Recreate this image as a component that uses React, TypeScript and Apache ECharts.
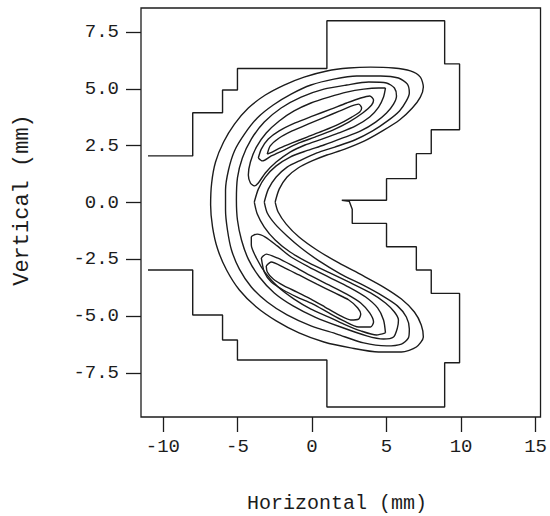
import React, { useEffect, useRef } from "react";
import * as echarts from "echarts";

// Axis ticks (mm)
const xTickValues = [-10, -5, 0, 5, 10, 15];
const yTickValues = [-7.5, -5, -2.5, 0, 2.5, 5, 7.5];
const xRange = [-11.47, 15.33];
const yRange = [-9.44, 8.56];

// Stepped outer boundary of the measured region [x, y] (mm)
const boundary = [
  [-11, 2.05], [-8, 2.05], [-8, 3.95], [-6, 3.95], [-6, 4.95], [-5, 4.95], [-5, 5.9],
  [1, 5.9], [1, 8], [8.9, 8], [8.9, 6.1], [9.9, 6.1], [9.9, 3.2], [8, 3.2], [8, 2.15],
  [7, 2.15], [7, 1.05], [5, 1.05], [5, 0.1], [2, 0.1], [2.5, 0.05], [2.7, -0.3],
  [2.7, -0.92], [5, -0.92], [5, -1.95], [7, -1.95], [7, -2.97], [8, -2.97], [8, -4.0],
  [9.9, -4.0], [9.9, -7.05], [8.9, -7.05], [8.9, -9], [1, -9], [1, -6.93], [-5, -6.93],
  [-5, -6.05], [-6, -6.05], [-6, -4.95], [-8, -4.95], [-8, -2.97], [-11, -2.97],
];

// Contour level 1 (outermost, C-shaped)
const contour1 = [
  [-2.47, 0.02], [-2.2, 0.59], [-1.67, 1.12], [-0.93, 1.52], [0.0, 1.83], [1.0, 2.09],
  [2.2, 2.35], [3.53, 2.71], [4.73, 3.15], [5.87, 3.63], [6.73, 4.16], [7.27, 4.64],
  [7.47, 5.08], [7.27, 5.52], [6.6, 5.79], [5.47, 5.92], [3.93, 5.96], [2.47, 5.92],
  [1.0, 5.79], [-0.53, 5.52], [-1.87, 5.17], [-3.13, 4.73], [-4.27, 4.16], [-5.2, 3.45],
  [-5.93, 2.66], [-6.47, 1.78], [-6.73, 0.86], [-6.8, -0.11], [-6.67, -1.08], [-6.33, -2.05],
  [-5.73, -2.97], [-4.87, -3.85], [-3.73, -4.6], [-2.4, -5.21], [-0.87, -5.74], [0.8, -6.14],
  [2.6, -6.4], [4.47, -6.58], [6.0, -6.58], [7.0, -6.36], [7.47, -5.92], [7.33, -5.39],
  [6.87, -4.82], [6.0, -4.25], [4.8, -3.72], [3.33, -3.19], [1.8, -2.66], [0.33, -2.09],
  [-0.87, -1.52], [-1.73, -0.95], [-2.27, -0.42], [-2.47, 0.02],
];

// Contour level 2 (C-shaped)
const contour2 = [
  [-3.2, 0.02], [-2.93, 0.59], [-2.4, 1.12], [-1.67, 1.56], [-0.73, 1.87], [0.33, 2.18],
  [1.53, 2.44], [2.87, 2.75], [4.07, 3.15], [5.07, 3.59], [5.87, 4.03], [6.33, 4.47],
  [6.53, 4.82], [6.4, 5.21], [5.8, 5.48], [4.6, 5.57], [3.0, 5.57], [1.47, 5.43],
  [-0.07, 5.17], [-1.4, 4.77], [-2.6, 4.29], [-3.67, 3.72], [-4.53, 3.01], [-5.2, 2.27],
  [-5.6, 1.43], [-5.8, 0.55], [-5.8, -0.33], [-5.67, -1.21], [-5.4, -2.09], [-4.87, -2.93],
  [-4.07, -3.72], [-3.0, -4.38], [-1.67, -4.95], [-0.07, -5.43], [1.67, -5.79], [3.47, -6.18],
  [5.0, -6.31], [6.0, -6.23], [6.47, -5.96], [6.53, -5.57], [6.33, -5.04], [5.73, -4.55],
  [4.73, -4.11], [3.4, -3.63], [1.93, -3.15], [0.47, -2.57], [-0.73, -2.0], [-1.67, -1.47],
  [-2.47, -0.95], [-3.0, -0.46], [-3.2, 0.02],
];

// Contour level 3 (C-shaped)
const contour3 = [
  [-3.87, 0.02], [-3.6, 0.59], [-3.13, 1.12], [-2.4, 1.61], [-1.47, 2.0], [-0.4, 2.27],
  [0.8, 2.53], [2.07, 2.84], [3.27, 3.15], [4.27, 3.54], [5.0, 3.94], [5.47, 4.33],
  [5.67, 4.69], [5.53, 5.04], [5.0, 5.26], [3.8, 5.3], [2.33, 5.17], [0.8, 4.99],
  [-0.73, 4.64], [-2.07, 4.16], [-3.2, 3.54], [-4.07, 2.79], [-4.67, 1.96], [-5.0, 1.08],
  [-5.07, 0.11], [-5.0, -0.77], [-4.73, -1.65], [-4.27, -2.49], [-3.53, -3.28], [-2.53, -3.98],
  [-1.27, -4.55], [0.2, -5.04], [1.93, -5.48], [3.67, -5.87], [4.8, -6.01], [5.47, -5.92],
  [5.73, -5.52], [5.8, -5.17], [5.53, -4.82], [4.93, -4.42], [3.93, -3.98], [2.6, -3.54],
  [1.2, -3.1], [-0.2, -2.66], [-1.47, -2.18], [-2.47, -1.65], [-3.2, -1.08], [-3.67, -0.51],
  [-3.87, 0.02],
];

// Contour level 4, upper and lower lobes
const contour4Upper = [
  [4.93, 5.04], [4.47, 5.04], [3.47, 4.99], [2.33, 4.86], [1.13, 4.64], [-0.07, 4.38],
  [-1.2, 4.03], [-2.2, 3.59], [-3.07, 3.06], [-3.73, 2.44], [-4.13, 1.78], [-4.27, 1.21],
  [-4.13, 0.86], [-3.87, 0.73], [-3.6, 0.86], [-3.13, 1.3], [-2.4, 1.78], [-1.47, 2.22],
  [-0.47, 2.53], [0.67, 2.79], [1.8, 3.06], [2.93, 3.37], [3.87, 3.76], [4.47, 4.2],
  [4.8, 4.64], [4.93, 5.04],
];
const contour4Lower = [
  [4.93, -5.74], [4.33, -5.83], [3.27, -5.65], [2.13, -5.35], [1.13, -5.04], [-0.07, -4.69],
  [-1.2, -4.25], [-2.27, -3.72], [-3.13, -3.1], [-3.73, -2.44], [-4.07, -1.87], [-4.07, -1.52],
  [-3.67, -1.39], [-3.13, -1.52], [-2.33, -1.91], [-1.4, -2.4], [-0.2, -2.84], [1.13, -3.28],
  [2.47, -3.72], [3.6, -4.16], [4.4, -4.64], [4.8, -5.17], [4.93, -5.74],
];

// Contour level 5, upper and lower lobes
const contour5Upper = [
  [-3.6, 1.96], [-3.4, 2.35], [-2.93, 2.79], [-2.2, 3.15], [-1.13, 3.5], [0.07, 3.81],
  [1.27, 4.11], [2.33, 4.38], [3.27, 4.6], [3.87, 4.69], [4.13, 4.51], [4.0, 4.29],
  [3.4, 3.94], [2.47, 3.54], [1.4, 3.19], [0.2, 2.88], [-0.87, 2.62], [-1.87, 2.31],
  [-2.73, 2.05], [-3.33, 1.83], [-3.6, 1.96],
];
const contour5Lower = [
  [-3.4, -2.44], [-3.07, -2.27], [-2.33, -2.44], [-1.4, -2.75], [-0.2, -3.19], [1.13, -3.63],
  [2.33, -4.03], [3.27, -4.42], [3.87, -4.86], [4.13, -5.26], [3.93, -5.48], [3.13, -5.48],
  [2.13, -5.21], [1.13, -4.86], [0.07, -4.47], [-1.0, -4.16], [-1.93, -3.85], [-2.73, -3.5],
  [-3.2, -3.06], [-3.4, -2.44],
];

// Contour level 6 (innermost), upper and lower lobes
const contour6Upper = [
  [-3.0, 2.13], [-2.8, 2.49], [-2.2, 2.84], [-1.33, 3.15], [-0.27, 3.45], [0.87, 3.76],
  [1.87, 4.03], [2.67, 4.25], [3.13, 4.33], [3.33, 4.16], [3.2, 3.98], [2.67, 3.76],
  [1.8, 3.45], [0.73, 3.15], [-0.33, 2.88], [-1.33, 2.62], [-2.13, 2.4], [-2.67, 2.22],
  [-3.0, 2.13],
];
const contour6Lower = [
  [-3.07, -2.79], [-2.73, -2.62], [-1.93, -2.84], [-0.87, -3.19], [0.33, -3.59], [1.53, -3.98],
  [2.47, -4.29], [3.07, -4.64], [3.27, -4.91], [3.13, -5.13], [2.6, -5.17], [1.8, -4.95],
  [0.87, -4.6], [-0.07, -4.25], [-1.0, -3.94], [-1.87, -3.67], [-2.6, -3.37], [-3.0, -3.06],
  [-3.07, -2.79],
];

const contours = [
  contour1, contour2, contour3,
  contour4Upper, contour4Lower, contour5Upper, contour5Lower, contour6Upper, contour6Lower,
];

const xTitle = "Horizontal (mm)";
const yTitle = "Vertical (mm)";

const FONT = "'Liberation Mono', 'DejaVu Sans Mono', monospace";
const INK = "#1c1c1c";

export default function App() {
  const ref = useRef<HTMLDivElement>(null);
  useEffect(() => {
    if (!ref.current) return;
    const chart = echarts.init(ref.current, undefined, { renderer: "svg" });
    const lineStyle = { color: INK, width: 1.4 };
    const series: any[] = [
      {
        type: "line",
        data: boundary,
        showSymbol: false,
        symbol: "none",
        lineStyle,
        silent: true,
      },
      ...contours.map((c) => ({
        type: "line",
        data: c,
        showSymbol: false,
        symbol: "none",
        smooth: 0.25,
        lineStyle,
        silent: true,
      })),
    ];
    chart.setOption({
      animation: false,
      backgroundColor: "#ffffff",
      grid: {
        left: 141,
        right: 7,
        top: 8,
        bottom: 99,
        show: true,
        borderColor: INK,
        borderWidth: 1.3,
        containLabel: false,
      },
      xAxis: {
        type: "value",
        position: "bottom",
        min: xRange[0],
        max: xRange[1],
        axisLine: { show: false, onZero: false },
        splitLine: { show: false },
        axisTick: {
          show: true,
          inside: false,
          length: 15,
          lineStyle: { color: INK, width: 1.3 },
          customValues: xTickValues,
        },
        axisLabel: {
          show: true,
          margin: 20,
          color: INK,
          fontFamily: FONT,
          fontSize: 19,
          customValues: xTickValues,
          formatter: (v: number) => String(v),
        },
      },
      yAxis: {
        type: "value",
        position: "left",
        min: yRange[0],
        max: yRange[1],
        axisLine: { show: false, onZero: false },
        splitLine: { show: false },
        axisTick: {
          show: true,
          inside: false,
          length: 15,
          lineStyle: { color: INK, width: 1.3 },
          customValues: yTickValues,
        },
        axisLabel: {
          show: true,
          margin: 22,
          color: INK,
          fontFamily: FONT,
          fontSize: 19,
          customValues: yTickValues,
          formatter: (v: number) => v.toFixed(1),
        },
      },
      graphic: [
        {
          type: "text",
          x: 337,
          y: 503,
          style: {
            text: xTitle,
            fill: INK,
            font: `20px ${FONT}`,
            align: "center",
            verticalAlign: "middle",
          },
        },
        {
          type: "text",
          x: 22,
          y: 200,
          rotation: Math.PI / 2,
          style: {
            text: yTitle,
            fill: INK,
            font: `22px ${FONT}`,
            align: "center",
            verticalAlign: "middle",
          },
        },
      ],
      series,
    });
    return () => chart.dispose();
  }, []);
  return (
    <div
      ref={ref}
      style={{ position: "absolute", left: 0, top: 0, width: 550, height: 516, background: "#fff" }}
    />
  );
}
